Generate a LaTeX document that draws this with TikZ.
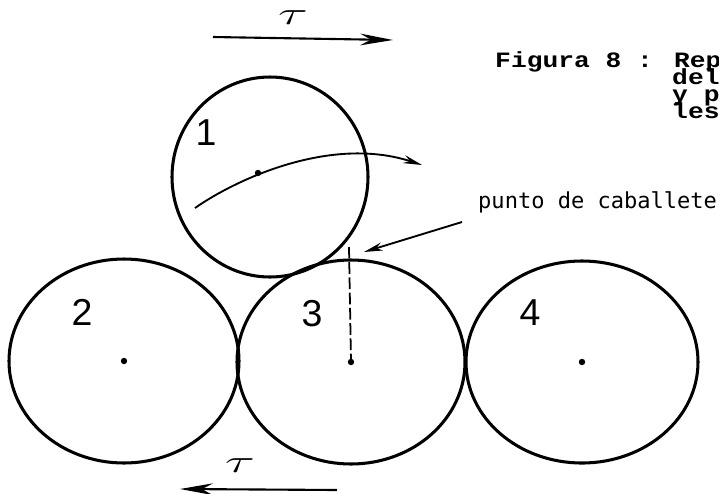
\documentclass[tikz,border=0pt]{standalone}
\usepackage{fontspec}
\usepackage{graphicx}
\setsansfont{Liberation Sans}
\newfontfamily\capfont{Liberation Mono}[FakeStretch=1.2]
\newfontfamily\notefont{DejaVu Sans Mono}
\usetikzlibrary{arrows.meta,positioning}

\begin{document}
\begin{tikzpicture}[
  x=0.03cm, y=-0.03cm,
  every node/.style={inner sep=0pt},
  roll/.style={line width=2.6pt},
  num/.style={font=\sffamily\fontsize{32}{32}\selectfont},
  captxt/.style={font=\capfont\bfseries\fontsize{18.7}{18.7}\selectfont,
                 text height=11pt, text depth=2pt, anchor=base west},
  note/.style={font=\notefont\fontsize{18.8}{18.8}\selectfont, anchor=base west},
  tau/.style={font=\fontsize{24}{24}\selectfont},
  shear/.style={-{Stealth[length=28pt,width=10pt]}, line width=1.8pt},
  arr/.style={-{Stealth[length=16pt,width=7pt]}, line width=1.6pt},
  axisline/.style={line width=1.5pt, dash pattern=on 10pt off 3pt}
]
\useasboundingbox (0,0) rectangle (719,493);

%% roll centres
\coordinate (o1) at (270,177);
\coordinate (o2) at (124,361);
\coordinate (o3) at (351,362);
\coordinate (o4) at (582,362);

%% rolls
\draw[roll] (o1) ellipse [x radius=98,  y radius=100];
\draw[roll] (o2) ellipse [x radius=115, y radius=102];
\draw[roll] (o3) ellipse [x radius=114, y radius=102];
\draw[roll] (o4) ellipse [x radius=116, y radius=101];

\foreach \c in {o2,o3,o4}
  \fill (\c) circle [radius=3.2];

%% numbers
\node[num] (n1) at (206,133) {1};
\node[num] (n2) at (82,312)  {2};
\node[num] (n3) at (312,314) {3};
\node[num] (n4) at (530,313) {4};

%% rotation of roll 1
\coordinate (a0) at (195,208);
\coordinate (a1) at (422,165);
\coordinate (adot) at (258,173);
\draw[arr] (a0) .. controls (235,180) and (330,135) .. (a1);
\fill (adot) circle [radius=3.2];

%% axis through roll 3 and saddle point
\coordinate (sp) at (349,247);
\draw[axisline] (sp) -- (o3);
\node[note] (pc) at (478,208) {punto de caballete};
\coordinate (p0) at (462,222);
\coordinate (p1) at (364,252);
\draw[arr] (p0) -- (p1);

%% shear stress
\node[tau] (tautop) at (293,18)  {\scalebox{1.9}[1.1]{$\tau$}};
\coordinate (t0) at (213,37);
\coordinate (t1) at (393,40);
\draw[shear] (t0) -- (t1);

\node[tau] (taubot) at (240,466) {\scalebox{1.9}[1.1]{$\tau$}};
\coordinate (b0) at (337,490);
\coordinate (b1) at (180,489);
\draw[shear] (b0) -- (b1);

%% caption
\node[captxt] (cap)  at (495,67)  {Figura 8 : Rep};
\node[captxt] (cap2) at (672,84)  {del};
\node[captxt] (cap3) at (672,101) {y p};
\node[captxt] (cap4) at (672,118) {les};

\end{tikzpicture}
\end{document}
